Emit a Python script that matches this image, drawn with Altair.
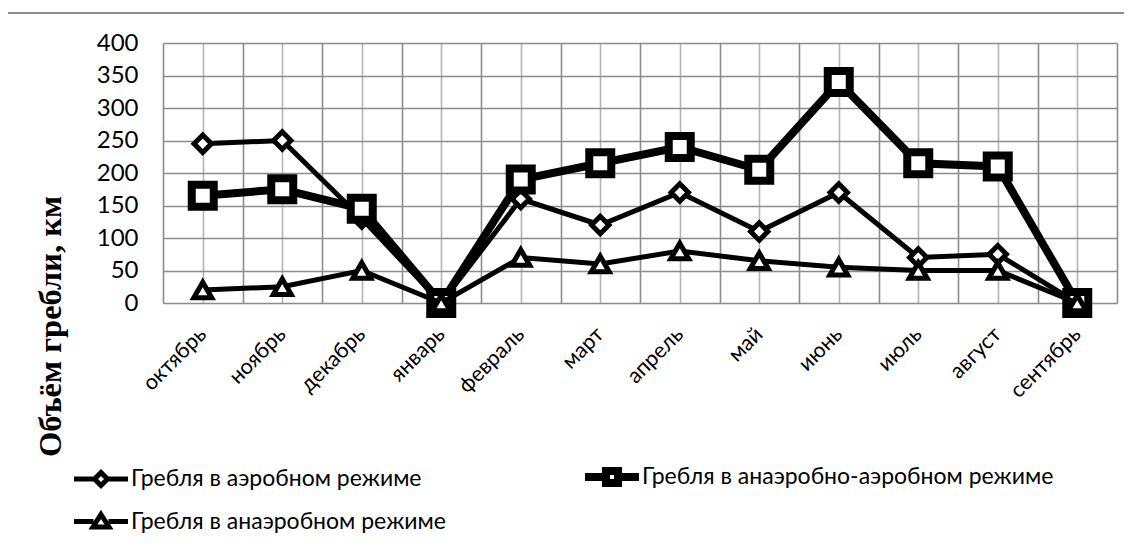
import altair as alt
import pandas as pd

months = ["октябрь", "ноябрь", "декабрь", "январь", "февраль", "март",
          "апрель", "май", "июнь", "июль", "август", "сентябрь"]
aerobic = [245, 250, 130, 0, 160, 120, 170, 110, 170, 70, 75, 0]
mixed = [165, 175, 145, 0, 190, 215, 240, 205, 340, 215, 210, 0]
anaerobic = [20, 25, 50, 0, 70, 60, 80, 65, 55, 50, 50, 0]
series_names = ["Гребля в аэробном режиме",
                "Гребля в анаэробно-аэробном режиме",
                "Гребля в анаэробном режиме"]
series_keys = ["a", "b", "c"]
y_ticks = [0, 50, 100, 150, 200, 250, 300, 350, 400]
y_title = "Объём гребли, км"

rows = []
for key, name, vals in zip(series_keys, series_names, [aerobic, mixed, anaerobic]):
    for i, (m, v) in enumerate(zip(months, vals)):
        rows.append({"key": key, "series": name, "idx": i, "month": m, "value": v})
df = pd.DataFrame(rows)

# styles
shapes = ["diamond", "square", "triangle-up"]
sizes = [300, 484, 320]
widths = [5, 8, 5]
legend_paths = [
    "M-2.7,0H-0.65M0.65,0H2.7M0,-0.65L0.65,0L0,0.65L-0.65,0Z",
    "M-2.7,0H-0.6M0.6,0H2.7M-0.6,-0.6H0.6V0.6H-0.6Z",
    "M-2.7,0H-0.75M0.75,0H2.7M0,-0.7L0.8,0.55H-0.8Z",
]

W, H = 954, 260
FONT = "Lato"

month_js = "[" + ",".join("'" + m + "'" for m in months) + "]"
name_js = "{" + ",".join("'" + k + "':'" + n + "'" for k, n in zip(series_keys, series_names)) + "}"
x_vals = [i / 2 for i in range(-1, 24)]

x_enc = alt.X(
    "idx:Q",
    scale=alt.Scale(domain=[-0.5, 11.5], nice=False, zero=False),
    axis=alt.Axis(
        values=x_vals,
        labelExpr=f"datum.value % 1 === 0 ? {month_js}[datum.value] : ''",
        labelAngle=315, labelAlign="right", labelBaseline="middle",
        labelPadding=28, labelOverlap=False, labelBound=False,
        labelFont=FONT, labelFontSize=21.5, labelColor="black",
        ticks=False, domain=False,
        grid=True,
        gridColor={"condition": {"test": "datum.value % 1 === 0", "value": "#b4b4b4"}, "value": "#8c8c8c"},
        gridWidth=1.6,
    ),
    title=None,
)
y_enc = alt.Y(
    "value:Q",
    scale=alt.Scale(domain=[0, 400], nice=False),
    axis=alt.Axis(
        values=y_ticks,
        labelFont=FONT, labelFontSize=24, labelColor="black", labelPadding=25,
        ticks=False, domain=False, grid=True, gridColor="#8c8c8c", gridWidth=1.6,
        titleFont="Liberation Serif", titleFontSize=32.5, titleFontWeight="bold",
        titleColor="black", titleAngle=270, titleX=-113, titleY=283,
        titleAlign="center", titleBaseline="middle",
    ),
    title=y_title,
)

layers = []
border = alt.Chart(pd.DataFrame({"a": [0]})).mark_rect(
    filled=False, stroke="#8c8c8c", strokeWidth=2
).encode(
    x=alt.value(-156), x2=alt.value(W + 30), y=alt.value(-30), y2=alt.value(H + 300)
)
layers.append(border)

for key, shp, sz, lw in zip(series_keys, shapes, sizes, widths):
    base = alt.Chart(df).transform_filter(alt.datum.key == key)
    line = base.mark_line(color="black", strokeWidth=lw).encode(x=x_enc, y=y_enc)
    pts = base.mark_point(
        shape=shp, size=sz, filled=True, fill="white", stroke="black",
        strokeWidth=lw, opacity=1
    ).encode(x=x_enc, y=y_enc)
    layers += [line, pts]

leg = alt.Legend(
    title=None, orient="none", legendX=-76, legendY=420, columns=2,
    direction="horizontal",
    symbolSize=400, labelOffset=16, rowPadding=5, columnPadding=123,
    labelFont=FONT, labelFontSize=23, labelColor="black", labelLimit=600,
    labelExpr=f"{name_js}[datum.label]",
    symbolStrokeColor="black", symbolFillColor="white", padding=0,
)
legend_layer = alt.Chart(df).transform_filter("false").mark_point(
    filled=False, color="black", opacity=1
).encode(
    x=x_enc, y=y_enc,
    shape=alt.Shape("key:N", scale=alt.Scale(domain=series_keys, range=legend_paths), legend=leg),
    strokeWidth=alt.StrokeWidth("key:N", scale=alt.Scale(type="ordinal", domain=series_keys, range=widths), legend=leg),
)
layers.append(legend_layer)

chart = alt.layer(*layers).properties(
    width=W, height=H,
    autosize=alt.AutoSizeParams(type="none"),
    padding={"left": 155, "top": 35, "right": 7, "bottom": 243},
    background="white",
).configure_view(stroke=None)

chart.save("out.html", embed_options={"renderer": "svg", "actions": False})
